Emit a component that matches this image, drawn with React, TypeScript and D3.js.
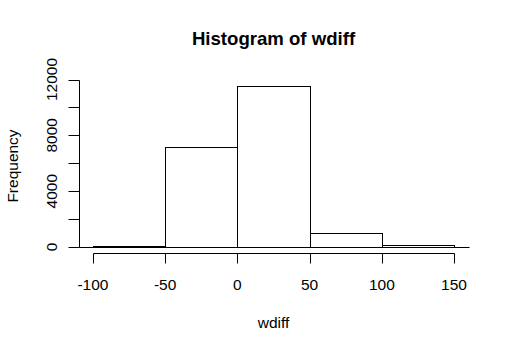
import React from 'react';
import * as d3 from 'd3';

const breaks = [-100, -50, 0, 50, 100, 150];
const counts = [60, 7200, 11570, 1000, 150];
const xTicks = [-100, -50, 0, 50, 100, 150];
const yTicks = [0, 2000, 4000, 6000, 8000, 10000, 12000];
const yLabels = [0, 4000, 8000, 12000];
const title = 'Histogram of wdiff';
const xTitle = 'wdiff';
const yTitle = 'Frequency';

export default function App() {
  const W = 509, H = 352;
  const x = d3.scaleLinear().domain([-110, 160]).range([78.5, 468.5]);
  const y = d3.scaleLinear().domain([0, 12000]).range([247, 79.5]);
  const c = (v: number) => Math.round(v) + 0.5;
  const font = '"Liberation Sans", Arial, sans-serif';
  const [r0, r1] = x.range();
  const axisY = 253.5;
  const axisX = c(r0);
  return (
    <svg width={W} height={H} style={{ position: 'absolute', left: 0, top: 0, background: '#fff' }}
      fontFamily={font}>
      <rect x={0} y={0} width={W} height={H} fill="#fff" />
      {counts.map((n, i) => {
        const x0 = c(x(breaks[i])), x1 = c(x(breaks[i + 1]));
        const yt = c(y(n)), yb = c(y(0));
        return (
          <rect key={i} x={x0} y={Math.min(yt, yb - 1)} width={x1 - x0} height={Math.max(yb - yt, 1)}
            fill="#fff" stroke="#000" strokeWidth={1} />
        );
      })}
      <line x1={c(r0)} x2={c(r1)} y1={c(y(0))} y2={c(y(0))} stroke="#000" />
      {/* x axis */}
      <line x1={c(x(xTicks[0]))} x2={c(x(xTicks[xTicks.length - 1]))} y1={axisY} y2={axisY} stroke="#000" />
      {xTicks.map((t) => (
        <g key={t}>
          <line x1={c(x(t))} x2={c(x(t))} y1={axisY} y2={axisY + 10} stroke="#000" />
          <text x={x(t)} y={290} fontSize={15.5} textAnchor="middle" fill="#000">{t}</text>
        </g>
      ))}
      {/* y axis */}
      <line x1={axisX} x2={axisX} y1={c(y(0))} y2={c(y(12000))} stroke="#000" />
      {yTicks.map((t) => (
        <line key={t} x1={axisX} x2={axisX - 11} y1={c(y(t))} y2={c(y(t))} stroke="#000" />
      ))}
      {yLabels.map((t) => (
        <text key={t} transform={`translate(56.5,${y(t)}) rotate(-90)`} fontSize={15.5}
          textAnchor="middle" fill="#000">{t}</text>
      ))}
      <text x={273.5} y={45} fontSize={18.6} fontWeight="bold" textAnchor="middle" fill="#000">{title}</text>
      <text x={273.5} y={328} fontSize={15.5} textAnchor="middle" fill="#000">{xTitle}</text>
      <text transform={`translate(18,166) rotate(-90)`} fontSize={15.5} textAnchor="middle" fill="#000">{yTitle}</text>
    </svg>
  );
}
